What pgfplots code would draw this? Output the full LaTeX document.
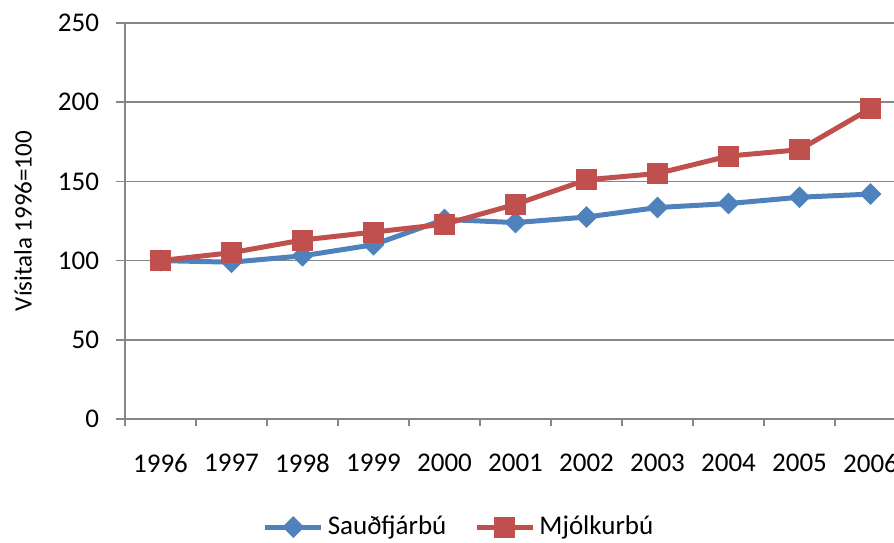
\documentclass[border=0pt]{standalone}
\usepackage{fontspec}
\setmainfont{Carlito}
\usepackage{pgfplots}
\pgfplotsset{compat=1.18}
\definecolor{sblue}{HTML}{4F81BD}
\definecolor{sred}{HTML}{C0504D}
\definecolor{gridc}{HTML}{868686}
\begin{document}
\begin{tikzpicture}
\begin{axis}[
  at={(62.5pt,61.5pt)}, anchor=south west,
  scale only axis, width=390.5pt, height=198pt,
  xmin=-0.5, xmax=10.5, ymin=0, ymax=250,
  /pgf/number format/assume math mode=true,
  font=\fontsize{13.5pt}{15pt}\selectfont,
  axis line style={draw=gridc, line width=0.75pt},
  axis x line*=bottom, axis y line*=left,
  ytick={0,50,...,250},
  ymajorgrids, major grid style={draw=gridc, line width=0.75pt},
  xtick={0,...,10},
  xticklabels={1996,1997,1998,1999,2000,2001,2002,2003,2004,2005,2006},
  minor xtick={-0.5,0.5,...,10.5},
  xtick style={draw=none},
  minor x tick style={draw=gridc, line width=0.75pt},
  minor tick length=3.5pt,
  ytick style={draw=gridc, line width=0.75pt},
  major tick length=4.5pt,
  tick align=outside,
  xticklabel style={yshift=-9.5pt},
  yticklabel style={xshift=-5pt},
  ylabel={Vísitala 1996=100},
  every axis y label/.style={at={(axis description cs:0,0.5)}, rotate=90, anchor=center, yshift=51pt, font=\fontsize{12.5pt}{14pt}\selectfont},
  legend style={at={(0.429,-0.273)}, anchor=center, legend columns=2, draw=none, fill=none,
    /tikz/every even column/.append style={column sep=12pt}},
  legend image code/.code={\draw[mark repeat=2,mark phase=2,#1] plot coordinates {(0pt,0pt) (14pt,0pt) (28pt,0pt)};},
]
\addplot[sblue, line width=2.5pt, mark=square*, mark size=3.6pt, mark options={rotate=45, line width=0.5pt}] coordinates {
(0,100) (1,99) (2,103) (3,110) (4,126) (5,124) (6,127.5) (7,133.5) (8,136) (9,140) (10,142)};
\addlegendentry{Sauðfjárbú}
\addplot[sred, line width=2.5pt, mark=square*, mark size=5pt, mark options={line width=0.5pt}] coordinates {
(0,100) (1,105) (2,113) (3,118) (4,123) (5,135.5) (6,151) (7,155) (8,166) (9,170) (10,196)};
\addlegendentry{Mjólkurbú}
\end{axis}
\pgfresetboundingbox
\useasboundingbox (0,0) rectangle (447pt,271pt);
\end{tikzpicture}
\end{document}
